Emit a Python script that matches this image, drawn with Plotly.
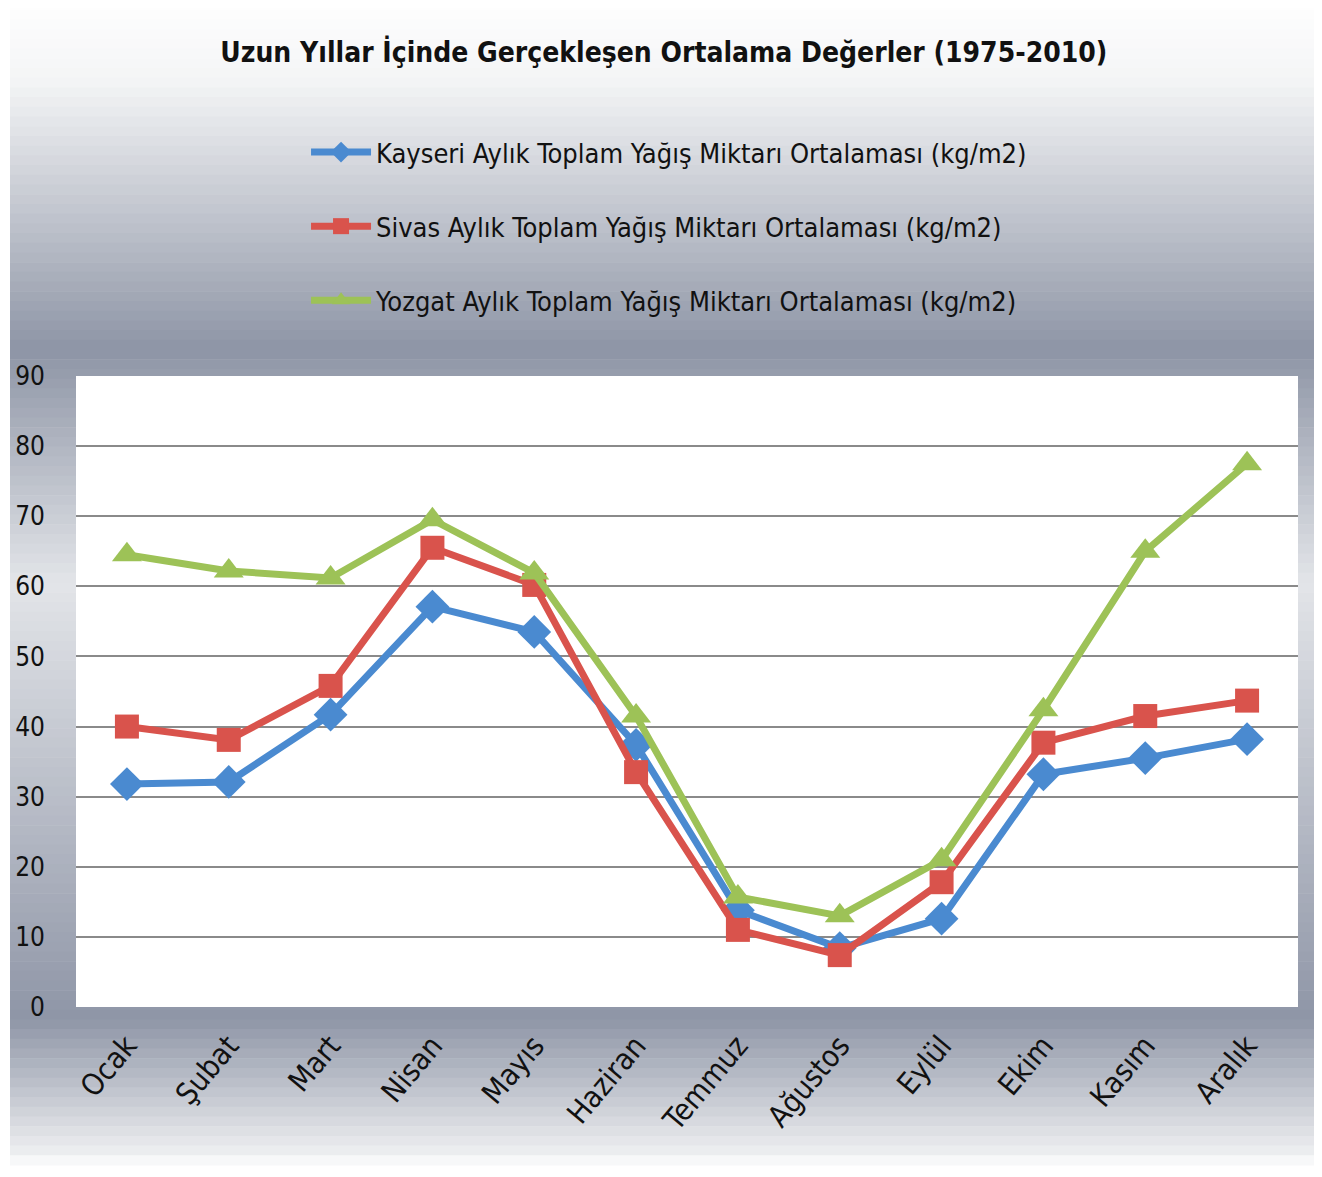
import plotly.graph_objects as go

months = ["Ocak", "Şubat", "Mart", "Nisan", "Mayıs", "Haziran", "Temmuz",
          "Ağustos", "Eylül", "Ekim", "Kasım", "Aralık"]
kayseri = [31.8, 32.1, 41.7, 57.1, 53.5, 37.4, 13.8, 8.4, 12.6, 33.2, 35.5, 38.2]
sivas = [40.0, 38.1, 45.8, 65.5, 60.2, 33.5, 11.0, 7.4, 17.8, 37.7, 41.5, 43.7]
yozgat = [64.5, 62.2, 61.2, 69.5, 61.9, 41.5, 15.7, 13.0, 21.0, 42.4, 65.0, 77.5]
yticks = [0, 10, 20, 30, 40, 50, 60, 70, 80, 90]

names = [
    "Kayseri Aylık Toplam Yağış Miktarı Ortalaması (kg/m2)",
    "Sivas Aylık Toplam Yağış Miktarı Ortalaması (kg/m2)",
    "Yozgat Aylık Toplam Yağış Miktarı Ortalaması (kg/m2)",
]
series = [kayseri, sivas, yozgat]
colors = ["#4a8ad0", "#d9534c", "#9dc257"]
symbols = ["diamond", "square", "triangle-up"]
sizes = [26, 24, 26]

FONT = "DejaVu Sans Condensed, Liberation Sans Narrow, Arial Narrow, sans-serif"

fig = go.Figure()
for i, (nm, vals, c, s, sz) in enumerate(zip(names, series, colors, symbols, sizes)):
    fig.add_trace(go.Scatter(
        x=months, y=vals, name=nm, mode="lines+markers",
        legendgroup=f"g{i}",
        line=dict(color=c, width=7),
        marker=dict(symbol=s, size=sz, color=c),
    ))

def hex2rgb(h):
    h = h.lstrip("#")
    return tuple(int(h[i:i + 2], 16) for i in (0, 2, 4))

stops = [(0.0, "#ffffff"), (0.07, "#f4f5f6"), (0.30, "#8e95a6"),
         (0.50, "#e3e5e9"), (0.875, "#8f96a7"), (0.99, "#eeeff1"), (1.0, "#ffffff")]

def color_at(t):
    for (a, ca), (b, cb) in zip(stops[:-1], stops[1:]):
        if a <= t <= b:
            f = (t - a) / (b - a) if b > a else 0
            r1, g1, b1 = hex2rgb(ca)
            r2, g2, b2 = hex2rgb(cb)
            return "rgb(%d,%d,%d)" % (r1 + (r2 - r1) * f, g1 + (g2 - g1) * f, b1 + (b2 - b1) * f)
    return stops[-1][1]

# page has an 8px body margin; canvas coordinates = page - 8
OFF = 8
W, H = 1314, 1161
L, R, T = 68, 24, 368
B = H - 999
pw, ph = W - L - R, H - T - B

N = 120
shapes = []
for k in range(N):
    ytop_px = k / N * 1165 - OFF
    ybot_px = (k + 1) / N * 1165 + 0.6 - OFF
    shapes.append(dict(type="rect", xref="paper", yref="paper",
                       x0=(10 - OFF - L) / pw, x1=(W - L) / pw,
                       y0=(H - B - ybot_px) / ph, y1=(H - B - ytop_px) / ph,
                       line=dict(width=0), fillcolor=color_at((k + 0.5) / N), layer="below"))
shapes.append(dict(type="rect", xref="paper", yref="paper", x0=0, x1=1, y0=0, y1=1,
                   line=dict(width=0), fillcolor="white", layer="below"))

fig.update_layout(
    width=W, height=H,
    margin=dict(l=L, r=R, t=T, b=B),
    paper_bgcolor="white",
    plot_bgcolor="white",
    shapes=shapes,
    title=dict(text="Uzun Yıllar İçinde Gerçekleşen Ortalama Değerler (1975-2010)",
               x=0.481, xref="paper", xanchor="center", y=1 - 44 / H, yanchor="middle",
               font=dict(family=FONT, size=28, color="#111111", weight="bold")),
    legend=dict(orientation="v", x=0.4853, xanchor="center", y=1 - 120 / H, yref="container",
                yanchor="top", traceorder="grouped", tracegroupgap=36,
                font=dict(family=FONT, size=27, color="#111111"),
                itemwidth=60, bgcolor="rgba(0,0,0,0)"),
    showlegend=True,
    xaxis=dict(showgrid=False, tickangle=-50, automargin=False,
               tickfont=dict(family=FONT, size=30, color="#111111"),
               ticklabelstandoff=14,
               showline=False, ticks="", range=[-0.5, 11.5]),
    yaxis=dict(range=[0, 90], tickvals=yticks, showgrid=True, gridcolor="#8a8a8a", gridwidth=2,
               zeroline=False, showline=False, automargin=False,
               tickfont=dict(family=FONT, size=26, color="#111111"), ticklabelstandoff=30),
)

fig.write_html("out.html")
